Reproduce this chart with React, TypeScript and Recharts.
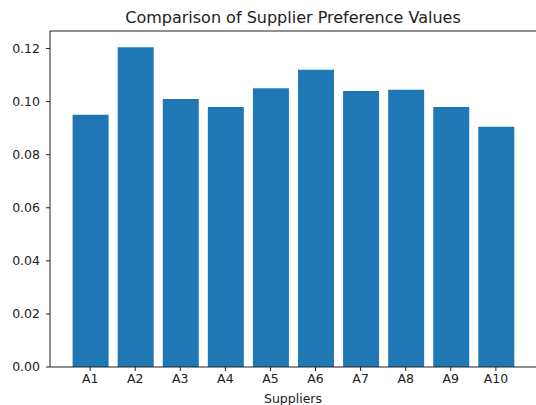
import React from 'react'
import { BarChart, Bar, XAxis, YAxis, ReferenceLine } from 'recharts'

// サプライヤー別の選好値
const suppliers = ['A1', 'A2', 'A3', 'A4', 'A5', 'A6', 'A7', 'A8', 'A9', 'A10']
const preferenceValues = [0.095, 0.1205, 0.101, 0.098, 0.105, 0.112, 0.104, 0.1045, 0.098, 0.0905]
const yTicks = [0, 0.02, 0.04, 0.06, 0.08, 0.1, 0.12]
const yMax = 0.1266

const FONT = '"DejaVu Sans", sans-serif'
const INK = '#222'

export default function App() {
  const data = suppliers.map((name, i) => ({ name, value: preferenceValues[i] }))

  return (
    <div style={{ position: 'relative', width: 536, height: 405, background: '#fff', fontFamily: FONT }}>
      <style>{`body { margin: 0; }`}</style>
      <div
        style={{
          position: 'absolute',
          left: 50,
          width: 486,
          top: 8,
          textAlign: 'center',
          fontSize: 16,
          color: INK,
          lineHeight: '20px',
        }}
      >
        Comparison of Supplier Preference Values
      </div>
      <BarChart
        width={536}
        height={405}
        data={data}
        margin={{ top: 31, right: 0, left: 0, bottom: 0 }}
        barCategoryGap={0}
      >
        <XAxis
          dataKey="name"
          height={38}
          padding={{ left: 17.6, right: 17.6 }}
          tick={{ fontSize: 12.5, fill: INK, fontFamily: FONT }}
          tickSize={4}
          tickMargin={3}
          tickLine={{ stroke: INK }}
          axisLine={{ stroke: INK }}
          label={{
            value: 'Suppliers',
            position: 'insideBottom',
            offset: 2,
            style: { fontSize: 12.5, fill: INK, fontFamily: FONT },
          }}
        />
        <YAxis
          width={50}
          domain={[0, yMax]}
          ticks={yTicks}
          allowDataOverflow
          tickFormatter={(v: number) => v.toFixed(2)}
          tick={{ fontSize: 12.5, fill: INK, fontFamily: FONT }}
          tickSize={4}
          tickMargin={6}
          tickLine={{ stroke: INK }}
          axisLine={{ stroke: INK }}
        />
        <ReferenceLine y={yMax} stroke={INK} ifOverflow="visible" />
        <Bar dataKey="value" fill="#1f77b4" barSize={36} isAnimationActive={false} />
      </BarChart>
    </div>
  )
}
